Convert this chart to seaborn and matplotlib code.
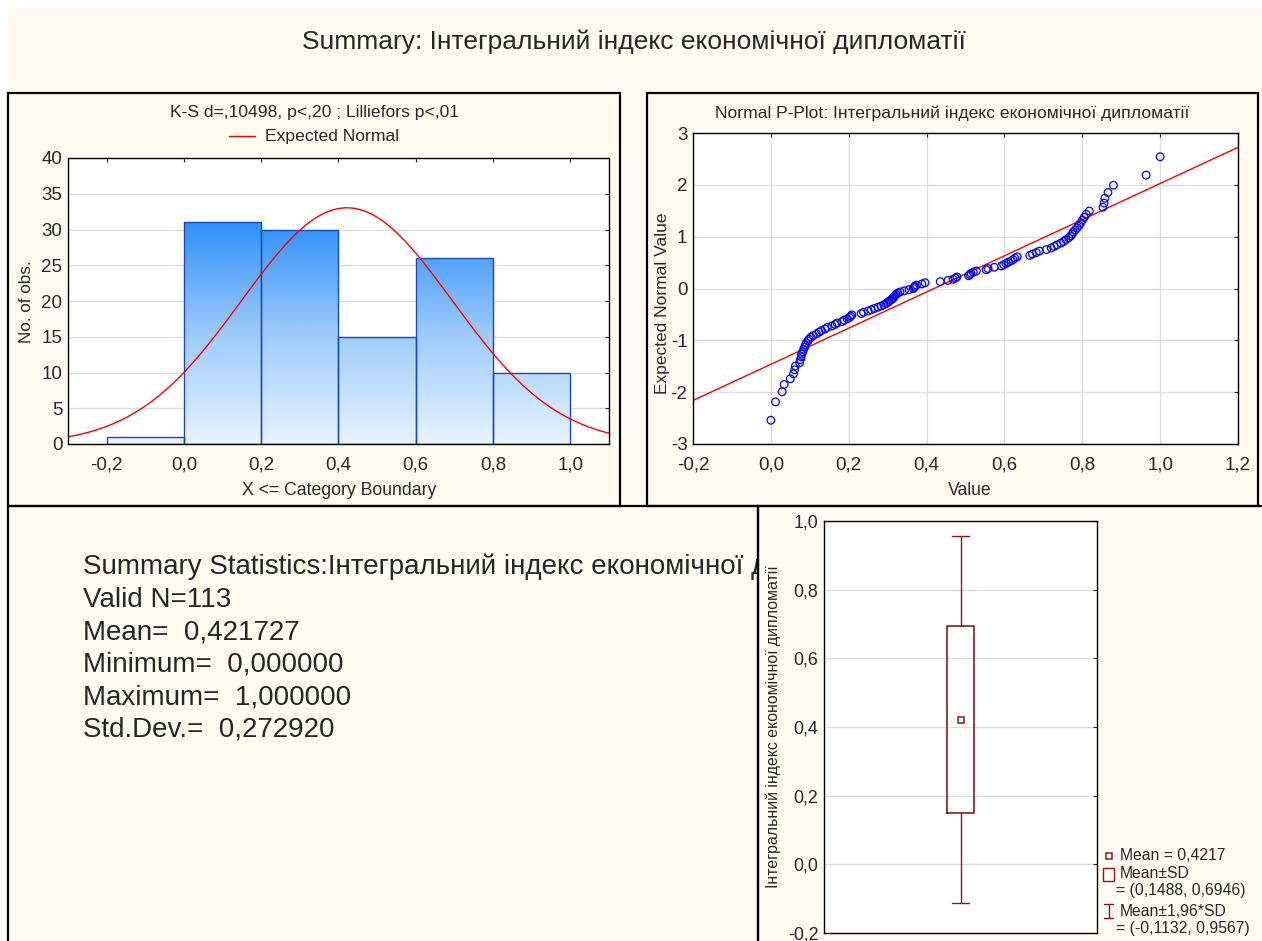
import numpy as np
import pandas as pd
import matplotlib
matplotlib.use("Agg")
import matplotlib.pyplot as plt
import seaborn as sns
from matplotlib.patches import Rectangle
from matplotlib.lines import Line2D
from matplotlib.colors import LinearSegmentedColormap
from matplotlib.ticker import FuncFormatter, MultipleLocator
from statistics import NormalDist

values = np.array([
    0.000, 0.012, 0.029, 0.034, 0.050, 0.058, 0.061, 0.063, 0.074, 0.076,
    0.078, 0.079, 0.082, 0.084, 0.087, 0.089, 0.091, 0.095, 0.098, 0.103,
    0.109, 0.117, 0.124, 0.130, 0.139, 0.145, 0.157, 0.165, 0.170, 0.183,
    0.188, 0.196,
    0.202, 0.205, 0.208, 0.232, 0.238, 0.250, 0.258, 0.266, 0.275, 0.283,
    0.290, 0.296, 0.300, 0.304, 0.308, 0.312, 0.315, 0.317, 0.319, 0.322,
    0.326, 0.332, 0.343, 0.355, 0.366, 0.368, 0.370, 0.374, 0.388, 0.396,
    0.435, 0.455, 0.468, 0.474, 0.478, 0.508, 0.511, 0.514, 0.520, 0.528,
    0.553, 0.558, 0.574, 0.592, 0.598,
    0.604, 0.610, 0.617, 0.622, 0.627, 0.633, 0.665, 0.672, 0.682, 0.690,
    0.708, 0.720, 0.728, 0.735, 0.745, 0.752, 0.758, 0.765, 0.770, 0.774,
    0.777, 0.782, 0.787, 0.792, 0.796, 0.800,
    0.805, 0.810, 0.818, 0.853, 0.856, 0.858, 0.866, 0.880, 0.964, 1.000,
])
bin_edges = [-0.2, 0.0, 0.2, 0.4, 0.6, 0.8, 1.0]

# summary numbers printed on the chart
n_valid = 113
mean_val = 0.421727
sd_val = 0.272920
min_val = 0.0
max_val = 1.0
box_lo, box_hi = 0.1488, 0.6946
whisk_lo, whisk_hi = -0.1132, 0.9567

title = "Summary: Інтегральний індекс економічної дипломатії"
var_name = "Інтегральний індекс економічної дипломатії"

CREAM = "#FFFBF0"
W, H = 1262, 941
TICK_FS = 13.5

sns.set_style("white")
plt.rcParams["font.family"] = ["Liberation Sans", "DejaVu Sans"]
plt.rcParams["axes.unicode_minus"] = False

fig = plt.figure(figsize=(W / 100, H / 100), dpi=100, facecolor="white")


def rect(x0, y0, x1, y1):
    return [x0 / W, 1 - y1 / H, (x1 - x0) / W, (y1 - y0) / H]


def ftext(x, y, s, **kw):
    kw.setdefault("va", "center")
    fig.text(x / W, 1 - y / H, s, **kw)


def comma(fmt):
    return FuncFormatter(lambda v, p: format(v, fmt).replace(".", ","))


# background and panel frames
fig.add_artist(Rectangle((8 / W, 0), 1 - 8 / W, 1 - 8 / H, transform=fig.transFigure,
                         fc=CREAM, ec="none", zorder=-10))
for (x0, y0, x1, y1) in [(8, 93, 620, 506), (647, 93, 1258, 506),
                         (8, 506, 758, 945), (758, 506, 1266, 945)]:
    fig.add_artist(Rectangle((x0 / W, 1 - y1 / H), (x1 - x0) / W, (y1 - y0) / H,
                             transform=fig.transFigure, fc="none", ec="black", lw=1.6))

ftext(634, 42, title, ha="center", fontsize=19)

# ---------- histogram ----------
ax1 = fig.add_axes(rect(68, 158, 609, 444))
ax1.set_facecolor("white")
# bins are "X <= boundary": nudge values so right edges are inclusive
sns.histplot(x=values - 1e-9, bins=bin_edges, ax=ax1, stat="count",
             color="#5AAAF8", edgecolor="#1A48C0", linewidth=1.0, alpha=1)
cmap = LinearSegmentedColormap.from_list("grad", ["#E8F3FF", "#9CCBFA", "#2F90FA"])
grad = np.linspace(0, 1, 256).reshape(-1, 1)
for patch in ax1.patches:
    im = ax1.imshow(grad, cmap=cmap, origin="lower", aspect="auto",
                    extent=(-0.3, 1.1, 0, 31), zorder=patch.get_zorder())
    im.set_clip_path(patch)
    patch.set_facecolor("none")
    patch.set_zorder(patch.get_zorder() + 0.5)
xs = np.linspace(-0.3, 1.1, 400)
expected = n_valid * 0.2 * np.exp(-0.5 * ((xs - mean_val) / sd_val) ** 2) / (sd_val * np.sqrt(2 * np.pi))
sns.lineplot(x=xs, y=expected, ax=ax1, color="#FF0000", lw=1.0)
ax1.set_xlim(-0.3, 1.1)
ax1.set_ylim(0, 40)
ax1.xaxis.set_major_locator(MultipleLocator(0.2))
ax1.yaxis.set_major_locator(MultipleLocator(5))
ax1.xaxis.set_major_formatter(comma(".1f"))
ax1.set_xlabel("")
ax1.set_ylabel("")
ax1.grid(axis="y", color="#DDDDDD", lw=1)
ax1.set_axisbelow(True)
ax1.tick_params(labelsize=TICK_FS, length=3, top=True, right=True, direction="in", pad=4)
ax1.tick_params(axis="x", pad=9)
for s in ax1.spines.values():
    s.set_color("black")
    s.set_linewidth(1)
ftext(314, 113, "K-S d=,10498, p<,20 ; Lilliefors p<,01", ha="center", fontsize=12.6)
fig.add_artist(Line2D([229 / W, 255 / W], [1 - 136 / H] * 2, color="#FF0000", lw=1))
ftext(265, 136, "Expected Normal", ha="left", fontsize=12.6)
ftext(27, 302, "No. of obs.", ha="center", rotation=90, fontsize=12.3)
ftext(339, 490, "X <= Category Boundary", ha="center", fontsize=12.7)

# ---------- normal probability plot ----------
ax2 = fig.add_axes(rect(693, 133, 1238, 444))
ax2.set_facecolor("white")
ranks = np.arange(1, len(values) + 1)
z = np.array([NormalDist().inv_cdf((r - 0.375) / (len(values) + 0.25)) for r in ranks])
pp = pd.DataFrame({"value": values, "z": z})
sns.scatterplot(data=pp, x="value", y="z", ax=ax2, marker="o", s=30,
                facecolors="none", edgecolor="#0000FF", linewidth=0.9, zorder=3)
slope, icpt = np.polyfit(values, z, 1)
lx = np.array([-0.2, 1.2])
sns.lineplot(x=lx, y=icpt + slope * lx, ax=ax2, color="#FF0000", lw=1.0)
ax2.set_xlim(-0.2, 1.2)
ax2.set_ylim(-3, 3)
ax2.xaxis.set_major_locator(MultipleLocator(0.2))
ax2.yaxis.set_major_locator(MultipleLocator(1))
ax2.xaxis.set_major_formatter(comma(".1f"))
ax2.set_xlabel("")
ax2.set_ylabel("")
ax2.grid(True, color="#DDDDDD", lw=1)
ax2.set_axisbelow(True)
ax2.tick_params(labelsize=TICK_FS, length=3, top=True, right=True, direction="in", pad=4)
ax2.tick_params(axis="x", pad=9)
for s in ax2.spines.values():
    s.set_color("black")
    s.set_linewidth(1)
ftext(952, 113, "Normal P-Plot: " + var_name, ha="center", fontsize=12.6)
ftext(663, 303, "Expected Normal Value", ha="center", rotation=90, fontsize=12.5)
ftext(970, 490, "Value", ha="center", fontsize=12.7)

# ---------- summary statistics text ----------
ax3 = fig.add_axes(rect(8, 506, 758, 941))
ax3.axis("off")
stat_lines = [
    "Summary Statistics:" + var_name,
    f"Valid N={n_valid}",
    "Mean=  " + f"{mean_val:.6f}".replace(".", ","),
    "Minimum=  " + f"{min_val:.6f}".replace(".", ","),
    "Maximum=  " + f"{max_val:.6f}".replace(".", ","),
    "Std.Dev.=  " + f"{sd_val:.6f}".replace(".", ","),
]
for i, line in enumerate(stat_lines):
    ax3.text((83 - 8) / 750, 1 - (567 - 506 + 32.6 * i) / 435, line, transform=ax3.transAxes,
             fontsize=20, va="center", ha="left", clip_on=True)

# ---------- mean / SD box plot ----------
ax4 = fig.add_axes(rect(824, 521, 1097, 933))
ax4.set_facecolor("white")
dark_red = "#8B1A1A"
ax4.bxp([{"med": mean_val, "mean": mean_val, "q1": box_lo, "q3": box_hi,
          "whislo": whisk_lo, "whishi": whisk_hi, "fliers": []}],
        positions=[0], widths=0.1, showmeans=True, showfliers=False,
        boxprops=dict(color=dark_red, lw=1.2),
        whiskerprops=dict(color=dark_red, lw=1.0),
        capprops=dict(color=dark_red, lw=1.0), capwidths=0.065,
        medianprops=dict(lw=0),
        meanprops=dict(marker="s", markersize=4.5, markerfacecolor="white",
                       markeredgecolor=dark_red, markeredgewidth=1.1))
ax4.set_xlim(-0.5, 0.5)
ax4.set_ylim(-0.2, 1.0)
ax4.set_xticks([])
ax4.yaxis.set_major_locator(MultipleLocator(0.2))
ax4.yaxis.set_major_formatter(comma(".1f"))
ax4.grid(axis="y", color="#DDDDDD", lw=1)
ax4.set_axisbelow(True)
ax4.tick_params(axis="y", labelsize=12.8, length=3, right=True, direction="in", pad=4)
for s in ax4.spines.values():
    s.set_color("black")
    s.set_linewidth(1)
ftext(773, 727, var_name, ha="center", rotation=90, fontsize=11.4)

# legend of the box plot
fig.add_artist(Line2D([1108.5 / W], [1 - 856 / H], marker="s", markersize=4.5,
                      markerfacecolor="white", markeredgecolor=dark_red, markeredgewidth=1.1))
fig.add_artist(Rectangle((1103 / W, 1 - 881 / H), 11 / W, 13 / H, transform=fig.transFigure,
                         fc="none", ec=dark_red, lw=1.0))
fig.add_artist(Line2D([1108.5 / W] * 2, [1 - 904 / H, 1 - 918 / H], color=dark_red, lw=1))
for yy in (904, 918):
    fig.add_artist(Line2D([1104 / W, 1113 / W], [1 - yy / H] * 2, color=dark_red, lw=1))
ftext(1120, 856, "Mean = " + f"{mean_val:.4f}".replace(".", ","), fontsize=11.3)
ftext(1120, 873, "Mean±SD", fontsize=11.3)
ftext(1116, 891, "= (" + f"{box_lo:.4f}".replace(".", ",") + ", "
      + f"{box_hi:.4f}".replace(".", ",") + ")", fontsize=11.3)
ftext(1120, 911, "Mean±1,96*SD", fontsize=11.3)
ftext(1116, 929, "= (" + f"{whisk_lo:.4f}".replace(".", ",") + ", "
      + f"{whisk_hi:.4f}".replace(".", ",") + ")", fontsize=11.3)

fig.savefig("out.png", dpi=100, facecolor="white")
